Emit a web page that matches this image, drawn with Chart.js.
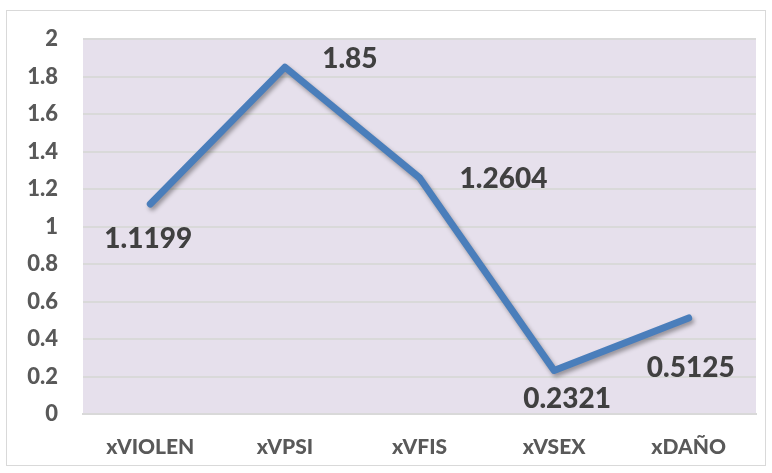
<!DOCTYPE html>
<html>
<head>
<meta charset="utf-8">
<script src="https://cdn.jsdelivr.net/npm/chart.js@4/dist/chart.umd.min.js"></script>
<style>
html,body{margin:0;padding:0;background:#fff;}
#wrap{width:772px;height:473px;position:relative;}
</style>
</head>
<body>
<div id="wrap"><canvas id="c" width="772" height="473"></canvas></div>
<script>
const categories = ["xVIOLEN", "xVPSI", "xVFIS", "xVSEX", "xDAÑO"];
const values = [1.1199, 1.85, 1.2604, 0.2321, 0.5125];
const valueLabels = ["1.1199", "1.85", "1.2604", "0.2321", "0.5125"];
const yTicks = [0, 0.2, 0.4, 0.6, 0.8, 1, 1.2, 1.4, 1.6, 1.8, 2];

// label placement offsets (pixels from the point to the label's visual centre)
const labelOffsets = [[-2, 34], [65, -9], [84, 0], [13, 28], [2, 49]];

const FONT = "Lato, 'Open Sans', sans-serif";
const TXT = "#404040";
const TICK = "#595959";

const framePlugin = {
  id: 'frame',
  beforeDraw(chart) {
    const ctx = chart.ctx, a = chart.chartArea;
    ctx.save();
    ctx.fillStyle = '#E6E0EC';
    ctx.fillRect(a.left, a.top, a.right - a.left, a.bottom - a.top);
    ctx.strokeStyle = '#D9D9D9';
    ctx.lineWidth = 1;
    ctx.strokeRect(6.5, 10.5, 759, 455);
    ctx.restore();
  }
};
const shadowPlugin = {
  id: 'shadow',
  beforeDatasetDraw(chart) {
    const ctx = chart.ctx;
    ctx.save();
    ctx.shadowColor = 'rgba(0,0,0,0.35)';
    ctx.shadowBlur = 4;
    ctx.shadowOffsetX = 2;
    ctx.shadowOffsetY = 3;
  },
  afterDatasetDraw(chart) { chart.ctx.restore(); }
};
const labelPlugin = {
  id: 'vlabels',
  afterDatasetsDraw(chart) {
    const ctx = chart.ctx;
    const meta = chart.getDatasetMeta(0);
    ctx.save();
    ctx.font = "900 28px " + FONT;
    ctx.fillStyle = TXT;
    ctx.textAlign = 'center';
    ctx.textBaseline = 'alphabetic';
    meta.data.forEach((pt, i) => {
      const o = labelOffsets[i];
      ctx.fillText(valueLabels[i], pt.x + o[0], pt.y + o[1] + 10);
    });
    ctx.restore();
  }
};

new Chart(document.getElementById('c'), {
  type: 'line',
  data: {
    labels: categories,
    datasets: [{
      data: values,
      borderColor: '#4A7EBB',
      borderWidth: 7,
      pointRadius: 0,
      tension: 0,
      borderJoinStyle: 'round',
      borderCapStyle: 'round',
      fill: false
    }]
  },
  options: {
    responsive: false,
    animation: false,
    layout: { padding: { left: 0, right: 16, top: 39, bottom: 0 } },
    plugins: { legend: { display: false }, tooltip: { enabled: false } },
    scales: {
      x: {
        offset: true,
        grid: { display: false, drawTicks: false },
        border: { color: '#D9D9D9', width: 2 },
        ticks: { color: TICK, font: { family: FONT, size: 21, weight: '900' }, padding: 21 },
        afterFit(s) { s.height = 59; }
      },
      y: {
        min: 0, max: 2,
        afterBuildTicks(s) { s.ticks = yTicks.map(v => ({ value: v })); },
        grid: { color: '#D9D9D9', lineWidth: 2, drawTicks: false },
        border: { display: false },
        ticks: { color: TICK, font: { family: FONT, size: 22, weight: '900' }, padding: 25,
          callback: (v) => String(v) },
        afterFit(s) { s.width = 83; }
      }
    }
  },
  plugins: [framePlugin, shadowPlugin, labelPlugin]
});
</script>
</body>
</html>
